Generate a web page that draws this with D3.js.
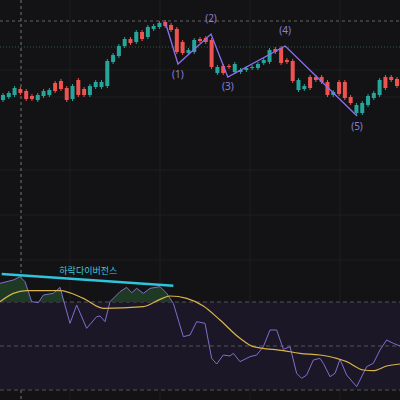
<!DOCTYPE html><html><head><meta charset="utf-8">
<script src="https://cdn.jsdelivr.net/npm/d3@7/dist/d3.min.js"></script>
<style>body{margin:0;background:#131315}svg{display:block}</style></head><body>
<script>
// candles: direction, body low, body high (price units)
const candleUp = "gggrrrgggrrrgrrgggggggrgrgggrrrrggrrrgrrgggggggrrrrggrrrrgrrrgggggrr".split("").map(c=>c==="g");
const bodyLo = [40,43,45,47,41,41,40,44,45,49,51,40,41,45,45,45,53,53,54,78,84,94,97,98,101,103,111,113,114,110,88,87,87,88,99,98,73,67,67,73,68,68,70,72,72,77,78,88,77,78,59,50,51,52,60,58,45,45,46,42,37,27,27,35,42,45,52,60,54];
const bodyHi = [45,47,52,51,49,44,45,49,50,57,59,52,54,60,51,54,58,58,79,85,94,101,101,108,108,113,114,117,118,115,111,98,90,100,101,102,100,73,74,74,76,70,72,73,76,80,90,91,92,80,79,60,54,63,63,63,58,48,58,58,43,35,37,44,47,60,63,63,61];
const waveIdx = [28,30.2,35.9,38.8,48.7,61.1];
const wavePrice = [118,76,106,63,94,24];
const waveLbl = ["(1)","(2)","(3)","(4)","(5)"];
const lblPrice = [62,118,50,106,10];
const rsi = [70,60,50,65,125,128,105,100,82,190,135,205,170,168,185,125,95,82,98,85,100,85,80,100,130,230,225,185,190,295,312,285,288,280,305,290,285,260,210,210,268,260,340,355,345,300,295,310,350,340,298,345,380,320,310,270,240,250,258];
const rsiX = [0,40,60,75,95,115,130,160,180,210,230,260,290,300,315,330,360,380,395,410,430,450,480,500,520,550,570,590,615,635,650,670,690,700,720,750,770,790,810,830,850,870,890,905,920,940,960,970,990,1005,1020,1040,1070,1100,1120,1140,1160,1180,1200];
const ma = [125,100,92,92,115,145,140,118,108,115,138,180,235,260,272,280,285,295,305,330,332,318,312];
const maX = [0,40,80,180,250,310,430,480,510,560,610,660,720,760,850,900,960,1010,1040,1090,1120,1160,1200];
const divText = "하락다이버전스";

const W=400,H=400;
const svg=d3.select("body").append("svg").attr("width",W).attr("height",H);
svg.append("rect").attr("width",W).attr("height",H).attr("fill","#131315");
const x=d3.scaleLinear().domain([0,bodyLo.length-1]).range([3,397]);
const y=d3.scaleLinear().domain([0,140]).range([140,0]);
[70,160,250,340].forEach(v=>svg.append("line").attr("x1",v).attr("x2",v).attr("y1",0).attr("y2",400).attr("stroke","#1e1e22"));
[70,97,170,215,260].forEach(v=>svg.append("line").attr("x1",0).attr("x2",W).attr("y1",v).attr("y2",v).attr("stroke","#1e1e22"));
svg.append("line").attr("x1",0).attr("x2",W).attr("y1",21).attr("y2",21).attr("stroke","#666").attr("stroke-dasharray","3,3");
svg.append("line").attr("x1",0).attr("x2",W).attr("y1",47).attr("y2",47).attr("stroke","#2f5f3f").attr("stroke-dasharray","1,2");
svg.append("line").attr("x1",21).attr("x2",21).attr("y1",0).attr("y2",400).attr("stroke","#777").attr("stroke-dasharray","3,3");
const g=svg.append("g");
bodyLo.forEach((lo,i)=>{const hi=bodyHi[i],col=candleUp[i]?"#26a69a":"#ef5350";
 g.append("line").attr("x1",x(i)).attr("x2",x(i)).attr("y1",y(hi+2)).attr("y2",y(lo-2)).attr("stroke",col);
 g.append("rect").attr("x",x(i)-2).attr("width",4).attr("y",y(hi)).attr("height",Math.max(1,y(lo)-y(hi))).attr("fill",col);});
const wl=d3.line().x(d=>x(d[0])).y(d=>y(d[1]));
svg.append("path").attr("d",wl(waveIdx.map((v,i)=>[v,wavePrice[i]]))).attr("fill","none").attr("stroke","#8c6ff0").attr("stroke-width",1.3);
waveLbl.forEach((t,i)=>svg.append("text").attr("x",x(waveIdx[i+1])).attr("y",y(lblPrice[i])).attr("text-anchor","middle").attr("font-family","Noto Sans").attr("font-size",10).attr("fill","#8a7fd6").text(t));
const rx=d3.scaleLinear().domain([0,1200]).range([0,400]);
const ry=d3.scaleLinear().domain([0,420]).range([260,400]);
svg.append("rect").attr("x",0).attr("width",W).attr("y",ry(126)).attr("height",ry(390)-ry(126)).attr("fill","#1b1726");
[126,258,390].forEach(v=>svg.append("line").attr("x1",0).attr("x2",W).attr("y1",ry(v)).attr("y2",ry(v)).attr("stroke","#555").attr("stroke-dasharray","4,3"));
svg.append("clipPath").attr("id","cp").append("rect").attr("width",W).attr("height",ry(126));
const pts=rsi.map((v,i)=>[rsiX[i],v]);
svg.append("path").attr("clip-path","url(#cp)").attr("d",d3.area().x(d=>rx(d[0])).y0(ry(126)).y1(d=>ry(d[1]))(pts)).attr("fill","#1f3a24");
svg.append("path").attr("d",d3.line().x(d=>rx(d[0])).y(d=>ry(d[1]))(pts)).attr("fill","none").attr("stroke","#7e6fd0").attr("stroke-width",1);
svg.append("path").attr("d",d3.line().curve(d3.curveMonotoneX).x(d=>rx(d[0])).y(d=>ry(d[1]))(ma.map((v,i)=>[maX[i],v]))).attr("fill","none").attr("stroke","#d9b44a").attr("stroke-width",1.2);
svg.append("line").attr("x1",rx(5)).attr("y1",ry(42)).attr("x2",rx(520)).attr("y2",ry(77)).attr("stroke","#2ec4dc").attr("stroke-width",2.5);
svg.append("text").attr("x",rx(265)).attr("y",ry(42)).attr("text-anchor","middle").attr("font-family","Noto Sans CJK KR").attr("font-size",9).attr("fill","#3cc6dc").text(divText);
</script></body></html>
